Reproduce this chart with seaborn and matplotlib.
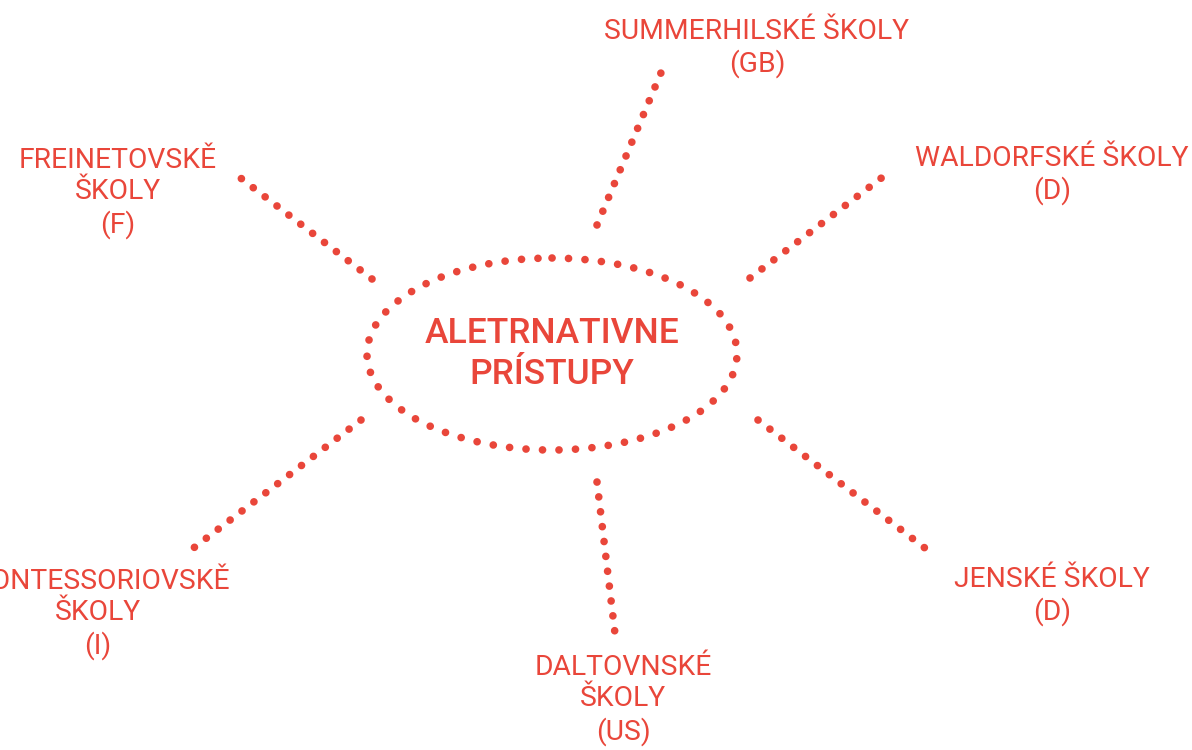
import pandas as pd
import seaborn as sns
import matplotlib.pyplot as plt
from matplotlib.patches import Ellipse

RED = '#E9463A'

# centre bubble
center_text = 'ALETRNATIVNE\nPRÍSTUPY'
center_xy = (552, 354)
center_size = (370, 192)

# spokes: start (near bubble) -> end (near label)
spoke_names = ['summerhill', 'waldorf', 'jena', 'dalton', 'montessori', 'freinet']
spoke_x0 = [597, 750, 758, 597, 361, 372]
spoke_y0 = [225, 278, 420, 482, 420, 279]
spoke_x1 = [663, 884, 934, 616, 187, 238]
spoke_y1 = [68, 176, 555, 642, 553, 176]

labels = ['SUMMERHILSKÉ ŠKOLY\n(GB)', 'WALDORFSKÉ ŠKOLY\n(D)', 'JENSKÉ ŠKOLY\n(D)',
          'DALTOVNSKÉ\nŠKOLY\n(US)', 'MONTESSORIOVSKĚ\nŠKOLY\n(I)', 'FREINETOVSKĚ\nŠKOLY\n(F)']
label_x = [757, 1052, 1052, 623, 98, 118]
label_y = [48, 175, 596, 700, 614, 193]

sns.set_style('white')
plt.rcParams['font.family'] = ['Roboto', 'DejaVu Sans']

df = pd.DataFrame({
    'spoke': spoke_names * 2,
    'x': spoke_x0 + spoke_x1,
    'y': spoke_y0 + spoke_y1,
})

fig = plt.figure(figsize=(11.92, 7.5), dpi=100)
ax = fig.add_axes([0, 0, 1, 1])

sns.lineplot(data=df, x='x', y='y', units='spoke', estimator=None, sort=False,
             color=RED, lw=5.5, linestyle=(0, (0.01, 1.95)), dash_capstyle='round', ax=ax)

ell = Ellipse(center_xy, center_size[0], center_size[1], fill=False, edgecolor=RED,
              lw=5.5, linestyle=(0, (0.01, 2.15)), capstyle='round')
ax.add_patch(ell)

ax.text(center_xy[0], center_xy[1], center_text, ha='center', va='center', color=RED,
        fontsize=25.5, fontweight='medium', linespacing=1.3)

for lab, lx, ly in zip(labels, label_x, label_y):
    ax.text(lx, ly, lab, ha='center', va='center', color=RED, fontsize=20.3, linespacing=1.2)

ax.set_xlim(0, 1192)
ax.set_ylim(750, 0)
ax.set_axis_off()

fig.savefig('out.png', dpi=100)
